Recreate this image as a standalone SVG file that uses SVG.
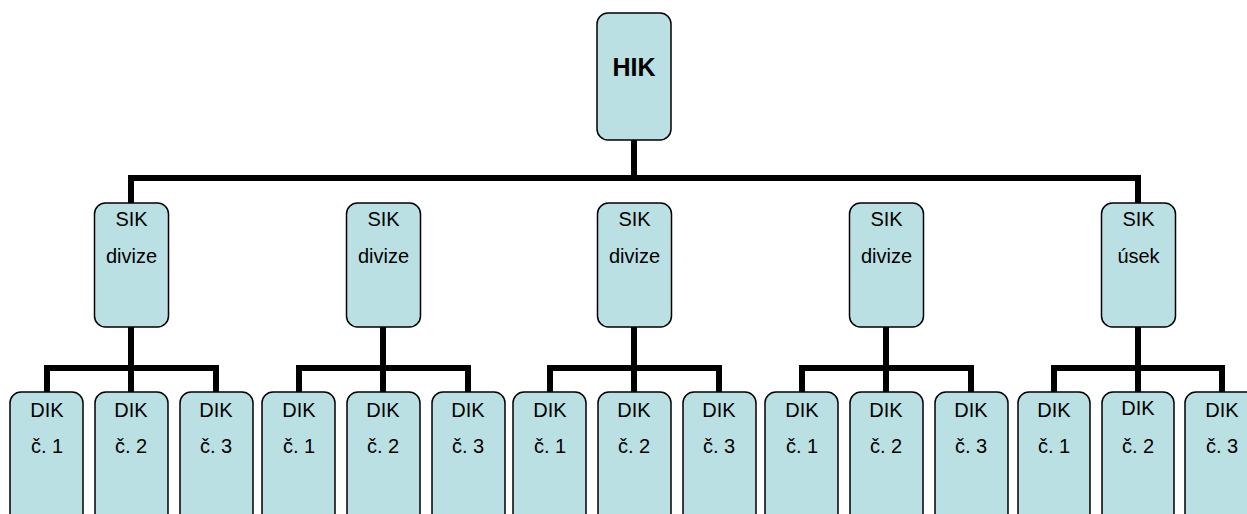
<svg xmlns="http://www.w3.org/2000/svg" width="1247" height="514" viewBox="0 0 1247 514">
<style>
.box{fill:#bbe0e3;stroke:#000;stroke-width:1.5}
.t{font-family:"Liberation Sans",Arial,sans-serif;font-size:20px;fill:#000;text-anchor:middle}
.b{font-weight:bold;font-size:25px}
.c{fill:none;stroke:#000;stroke-width:6;stroke-linejoin:miter}
</style>
<rect width="1247" height="514" fill="#fff"/>
<g id="connectors">
<path class="c" d="M634,140V178M131,203V178H1138V203"/>
<path class="c" d="M131,327V368M47,392V368H216V392M131,368V392"/>
<path class="c" d="M383,327V368M299,392V368H468V392M383,368V392"/>
<path class="c" d="M634,327V368M550,392V368H719V392M634,368V392"/>
<path class="c" d="M886,327V368M802,392V368H971V392M886,368V392"/>
<path class="c" d="M1138,327V368M1054,392V368H1222V392M1138,368V392"/>
</g>
<g id="hik"><rect class="box" x="597" y="13" width="74" height="127" rx="11"/><text class="t b" x="634" y="76">HIK</text></g>
<g id="sik1"><rect class="box" x="94.500" y="203" width="74" height="124" rx="11"/><text class="t" x="131.500" y="226">SIK</text><text class="t" x="131.500" y="263">divize</text></g>
<g id="sik2"><rect class="box" x="346.500" y="203" width="74" height="124" rx="11"/><text class="t" x="383.500" y="226">SIK</text><text class="t" x="383.500" y="263">divize</text></g>
<g id="sik3"><rect class="box" x="597.500" y="203" width="74" height="124" rx="11"/><text class="t" x="634.500" y="226">SIK</text><text class="t" x="634.500" y="263">divize</text></g>
<g id="sik4"><rect class="box" x="849.500" y="203" width="74" height="124" rx="11"/><text class="t" x="886.500" y="226">SIK</text><text class="t" x="886.500" y="263">divize</text></g>
<g id="sik5"><rect class="box" x="1101.500" y="203" width="74" height="124" rx="11"/><text class="t" x="1138.500" y="226">SIK</text><text class="t" x="1138.500" y="263">úsek</text></g>
<g id="dik1-1"><rect class="box" x="10" y="392" width="73" height="140" rx="11"/><text class="t" x="47" y="417">DIK</text><text class="t" x="47" y="453">č. 1</text></g>
<g id="dik1-2"><rect class="box" x="95" y="392" width="73" height="140" rx="11"/><text class="t" x="131" y="417">DIK</text><text class="t" x="131" y="453">č. 2</text></g>
<g id="dik1-3"><rect class="box" x="180" y="392" width="73" height="140" rx="11"/><text class="t" x="216" y="417">DIK</text><text class="t" x="216" y="453">č. 3</text></g>
<g id="dik2-1"><rect class="box" x="262" y="392" width="73" height="140" rx="11"/><text class="t" x="299" y="417">DIK</text><text class="t" x="299" y="453">č. 1</text></g>
<g id="dik2-2"><rect class="box" x="347" y="392" width="73" height="140" rx="11"/><text class="t" x="383" y="417">DIK</text><text class="t" x="383" y="453">č. 2</text></g>
<g id="dik2-3"><rect class="box" x="432" y="392" width="73" height="140" rx="11"/><text class="t" x="468" y="417">DIK</text><text class="t" x="468" y="453">č. 3</text></g>
<g id="dik3-1"><rect class="box" x="513" y="392" width="73" height="140" rx="11"/><text class="t" x="550" y="417">DIK</text><text class="t" x="550" y="453">č. 1</text></g>
<g id="dik3-2"><rect class="box" x="598" y="392" width="73" height="140" rx="11"/><text class="t" x="634" y="417">DIK</text><text class="t" x="634" y="453">č. 2</text></g>
<g id="dik3-3"><rect class="box" x="683" y="392" width="73" height="140" rx="11"/><text class="t" x="719" y="417">DIK</text><text class="t" x="719" y="453">č. 3</text></g>
<g id="dik4-1"><rect class="box" x="765" y="392" width="73" height="140" rx="11"/><text class="t" x="802" y="417">DIK</text><text class="t" x="802" y="453">č. 1</text></g>
<g id="dik4-2"><rect class="box" x="850" y="392" width="73" height="140" rx="11"/><text class="t" x="886" y="417">DIK</text><text class="t" x="886" y="453">č. 2</text></g>
<g id="dik4-3"><rect class="box" x="935" y="392" width="73" height="140" rx="11"/><text class="t" x="971" y="417">DIK</text><text class="t" x="971" y="453">č. 3</text></g>
<g id="dik5-1"><rect class="box" x="1018" y="392" width="72" height="140" rx="11"/><text class="t" x="1054" y="417">DIK</text><text class="t" x="1054" y="453">č. 1</text></g>
<g id="dik5-2"><rect class="box" x="1102" y="392" width="72" height="140" rx="11"/><text class="t" x="1138" y="415">DIK</text><text class="t" x="1138" y="453">č. 2</text></g>
<g id="dik5-3"><rect class="box" x="1185" y="392" width="73" height="140" rx="11"/><text class="t" x="1222" y="417">DIK</text><text class="t" x="1222" y="453">č. 3</text></g>
</svg>
